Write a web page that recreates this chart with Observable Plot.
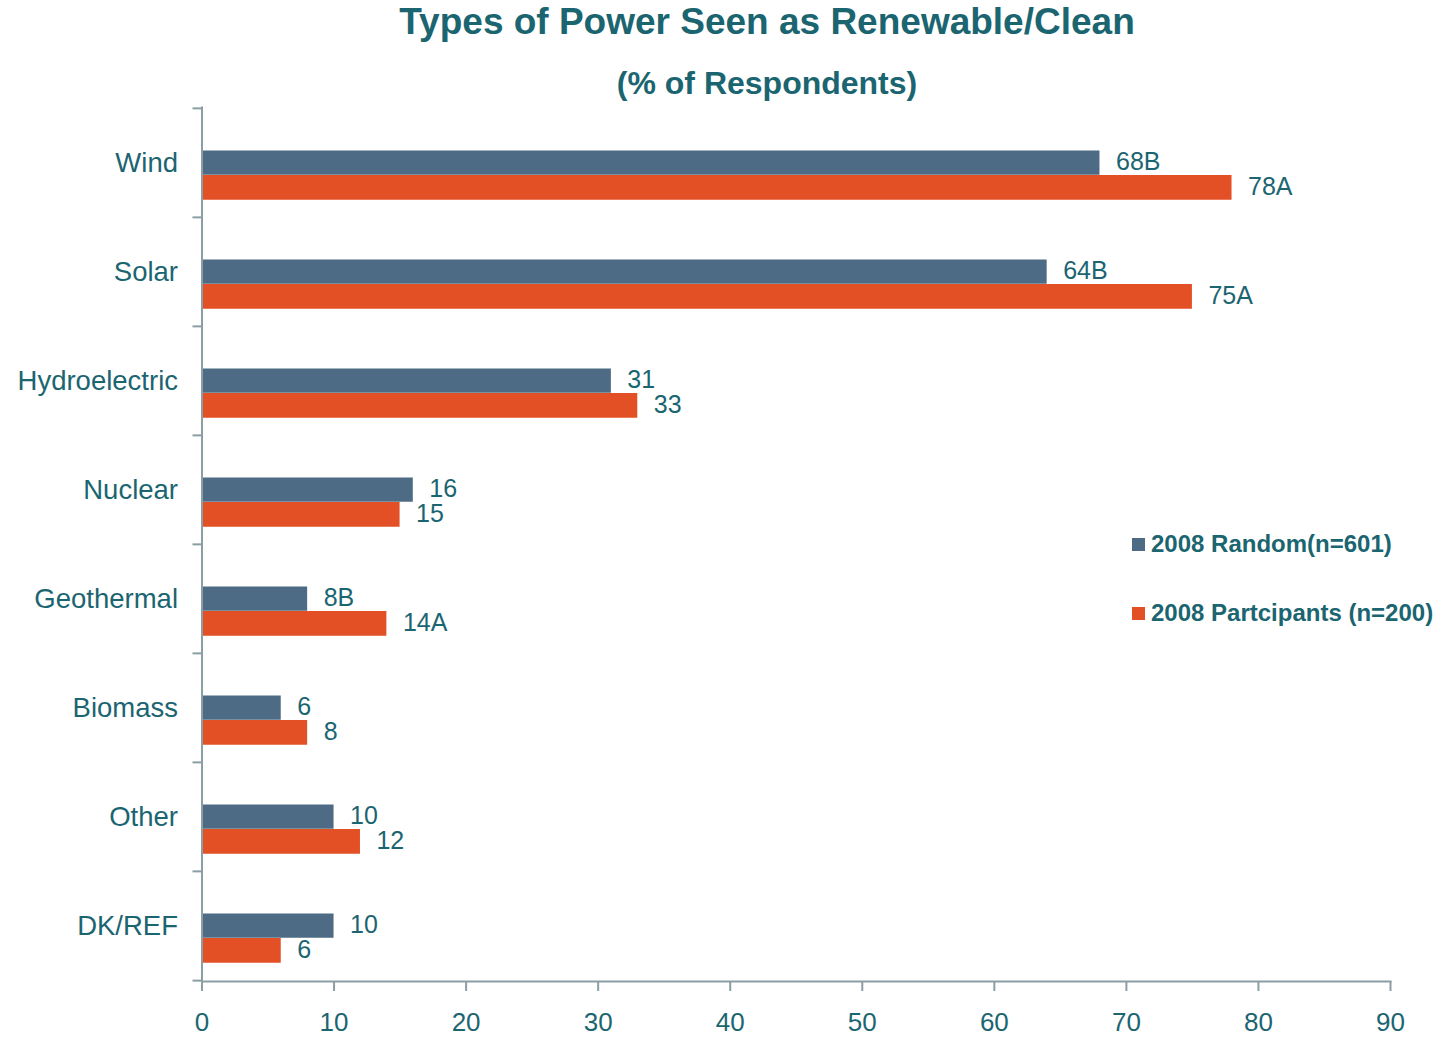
<!DOCTYPE html>
<html>
<head>
<meta charset="utf-8">
<script src="https://cdn.jsdelivr.net/npm/d3@7"></script>
<script src="https://cdn.jsdelivr.net/npm/@observablehq/plot@0.6"></script>
<style>
  html, body { margin: 0; padding: 0; background: #fff; }
  body { font-family: "Liberation Sans", Arial, sans-serif; }
  #wrap { position: relative; width: 1439px; height: 1041px; overflow: hidden; }
  #header { position: relative; height: 100px; }
  .ttl { position: absolute; left: 267px; width: 1000px; text-align: center; font-weight: bold; color: #1b6571; line-height: 1; white-space: nowrap; }
  #title { top: 3px; font-size: 37px; }
  #subtitle { top: 67px; font-size: 32px; }
  #legend { position: absolute; left: 1132px; top: 528px; color: #1b6571; font-weight: bold; font-size: 24px; }
  .row { display: flex; align-items: center; height: 32px; white-space: nowrap; }
  .row + .row { margin-top: 37px; }
  .sw { width: 13px; height: 13px; margin-right: 6px; flex: none; }
</style>
</head>
<body>
<div id="wrap">
  <div id="header">
    <div id="title" class="ttl"></div>
    <div id="subtitle" class="ttl"></div>
  </div>
  <div id="chart"></div>
  <div id="legend"></div>
</div>
<script>
const titleText = "Types of Power Seen as Renewable/Clean";
const subtitleText = "(% of Respondents)";
const categories = ["Wind", "Solar", "Hydroelectric", "Nuclear", "Geothermal", "Biomass", "Other", "DK/REF"];
const seriesNames = ["2008 Random(n=601)", "2008 Partcipants (n=200)"];
const random2008 = [68, 64, 31, 16, 8, 6, 10, 10];
const participants2008 = [78, 75, 33, 15, 14, 8, 12, 6];
const randomLabels = ["68B", "64B", "31", "16", "8B", "6", "10", "10"];
const participantLabels = ["78A", "75A", "33", "15", "14A", "8", "12", "6"];
const xTicks = [0, 10, 20, 30, 40, 50, 60, 70, 80, 90];

const BLUE = "#4d6b84";
const ORANGE = "#e35026";
const TEAL = "#1b6571";
const GRAY = "#8a9ea4";
const seriesColors = [BLUE, ORANGE];

document.getElementById("title").textContent = titleText;
document.getElementById("subtitle").textContent = subtitleText;

const rowsR = categories.map((c, i) => ({category: c, value: random2008[i], label: randomLabels[i]}));
const rowsP = categories.map((c, i) => ({category: c, value: participants2008[i], label: participantLabels[i]}));

const H = 941, MT = 7, MB = 60;
const bw = (H - MT - MB) / categories.length;

const chart = Plot.plot({
  width: 1439,
  height: H,
  marginTop: MT,
  marginBottom: MB,
  marginLeft: 201.5,
  marginRight: 49,
  style: {fontFamily: "'Liberation Sans', Arial, sans-serif", color: TEAL, background: "white"},
  x: {domain: [0, 90], ticks: xTicks},
  y: {domain: categories, padding: 0},
  marks: [
    Plot.barX(rowsR, {x: "value", y: "category", fill: seriesColors[0], insetTop: 42.5, insetBottom: bw - 67}),
    Plot.barX(rowsP, {x: "value", y: "category", fill: seriesColors[1], insetTop: 67, insetBottom: bw - 92}),
    Plot.text(rowsR, {x: "value", y: "category", text: "label", dx: 16, dy: -1.5, textAnchor: "start", fontSize: 25, fill: TEAL}),
    Plot.text(rowsP, {x: "value", y: "category", text: "label", dx: 16, dy: 23.5, textAnchor: "start", fontSize: 25, fill: TEAL}),
    Plot.axisY({tickSize: 0, tickPadding: 24, fontSize: 27.5, fill: TEAL, label: null}),
    Plot.axisY({tickSize: 9, text: null, dy: -bw / 2, stroke: GRAY, strokeWidth: 2, label: null}),
    Plot.axisY({ticks: [categories[categories.length - 1]], tickSize: 9, text: null, dy: bw / 2, stroke: GRAY, strokeWidth: 2, label: null}),
    Plot.frame({anchor: "left", stroke: GRAY, strokeWidth: 2}),
    Plot.frame({anchor: "bottom", stroke: GRAY, strokeWidth: 2}),
    Plot.axisX({ticks: xTicks, tickSize: 10, text: null, stroke: GRAY, strokeWidth: 2, label: null}),
    Plot.axisX({ticks: xTicks, tickSize: 0, tickPadding: 31, fontSize: 26, fill: TEAL, label: null})
  ]
});
document.getElementById("chart").appendChild(chart);

const legend = document.getElementById("legend");
seriesNames.forEach((name, i) => {
  const row = document.createElement("div");
  row.className = "row";
  const sw = document.createElement("span");
  sw.className = "sw";
  sw.style.background = seriesColors[i];
  const t = document.createElement("span");
  t.textContent = name;
  row.appendChild(sw);
  row.appendChild(t);
  legend.appendChild(row);
});
</script>
</body>
</html>
